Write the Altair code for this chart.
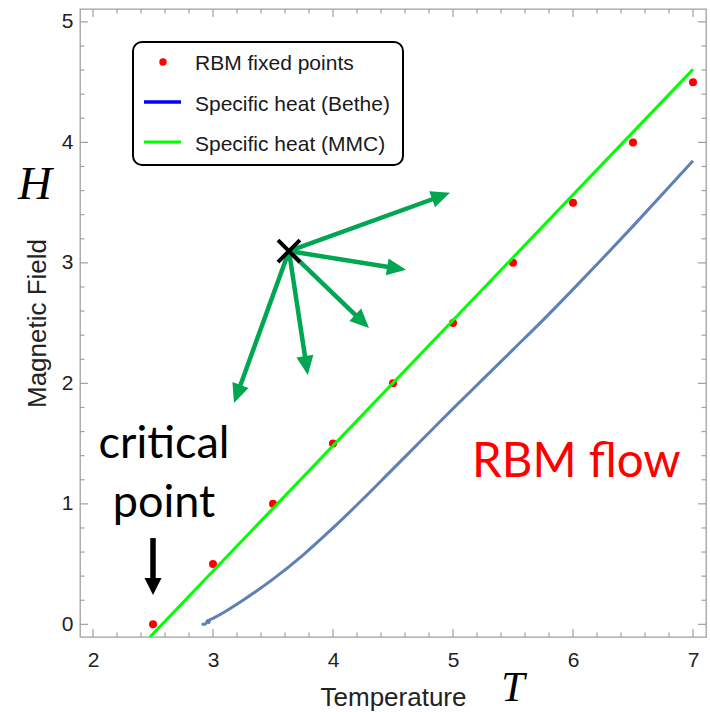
import math
import altair as alt
import numpy as np
import pandas as pd

# ---------------- data ----------------
rbm_T = [2.5, 3.0, 3.5, 4.0, 4.5, 5.0, 5.5, 6.0, 6.5, 7.0]
rbm_H = [0.0, 0.5, 1.0, 1.5, 2.0, 2.5, 3.0, 3.5, 4.0, 4.5]

mmc_T = [2.475, 7.0]
mmc_H = [-0.105, 4.606]

bethe_T = [2.906, 2.93, 2.945, 2.955, 2.965, 2.975, 2.99, 3.0, 3.1, 3.25, 3.5, 3.75,
           4.0, 4.25, 4.5, 4.75, 5.0, 5.25, 5.5, 5.75, 6.0, 6.25, 6.5, 6.75, 7.0]
bethe_H = [0.0, 0.0, 0.012, 0.032, 0.014, 0.04, 0.045, 0.05, 0.105, 0.2, 0.375, 0.575,
           0.8, 1.04, 1.29, 1.54, 1.79, 2.035, 2.28, 2.525, 2.78, 3.04, 3.305, 3.575, 3.848]

flow_origin_T = [3.633]
flow_origin_H = [3.098]
flow_tip_T = [4.975, 4.608, 4.30, 3.79, 3.175]
flow_tip_H = [3.581, 2.942, 2.46, 2.07, 1.838]

crit_T = [2.5]
crit_top_H = [0.716]
crit_tip_H = [0.243]

x_tick_labels = [2, 3, 4, 5, 6, 7]
y_tick_labels = [0, 1, 2, 3, 4, 5]

legend_labels = ["RBM fixed points", "Specific heat (Bethe)", "Specific heat (MMC)"]

# ---------------- layout ----------------
W, H = 626, 628
X0, X1 = 1.8917, 7.1083
Y0, Y1 = -0.105, 5.107
SX = W / (X1 - X0)
SY = H / (Y1 - Y0)

xs = alt.Scale(domain=[X0, X1], nice=False, zero=False)
ys = alt.Scale(domain=[Y0, Y1], nice=False, zero=False)

GREEN = "#00A651"
FRAME = "#a0a0a0"

xaxis = alt.Axis(values=x_tick_labels, ticks=False, domain=False, grid=False,
                 labelFontSize=21, labelFont="Liberation Sans", labelColor="#222222",
                 labelPadding=12, title="Temperature", titleFont="Liberation Sans",
                 titleFontSize=26, titleFontWeight="normal", titleColor="#222222",
                 titleY=68, titleBaseline="alphabetic")
yaxis = alt.Axis(values=y_tick_labels, ticks=False, domain=False, grid=False,
                 labelFontSize=21, labelFont="Liberation Sans", labelColor="#222222",
                 labelPadding=7, title="Magnetic Field", titleFont="Liberation Sans",
                 titleFontSize=26, titleFontWeight="normal", titleColor="#222222",
                 titleAngle=270, titleX=-35, titleY=314, titleBaseline="alphabetic",
                 titleAlign="center")


def X(f):
    return alt.X(f, scale=xs, axis=xaxis)


def Y(f):
    return alt.Y(f, scale=ys, axis=yaxis)


def arrow_table(oT, oH, tT, tH, head_px):
    rows = []
    for a, b, c, d in zip(oT, oH, tT, tH):
        dx = (c - a) * SX
        dy = (d - b) * SY
        L = math.hypot(dx, dy)
        ang = math.degrees(math.atan2(dx, dy)) % 360
        back = head_px * 0.6
        rows.append(dict(T0=a, H0=b, T1=c - dx / L * back / SX, H1=d - dy / L * back / SY,
                         TT=c, HT=d, ang=ang))
    return pd.DataFrame(rows)


flow = arrow_table(flow_origin_T * len(flow_tip_T), flow_origin_H * len(flow_tip_T),
                   flow_tip_T, flow_tip_H, 19)
crit = arrow_table(crit_T, crit_top_H, crit_T, crit_tip_H, 17)

# ---------------- tick marks (inward, on all four sides) ----------------
x_major = pd.DataFrame({"v": x_tick_labels})
x_minor = pd.DataFrame({"v": [v for v in np.round(np.arange(2.0, 7.01, 0.2), 1) if abs(v - round(v)) > 1e-6]})
y_major = pd.DataFrame({"v": y_tick_labels})
y_minor = pd.DataFrame({"v": [v for v in np.round(np.arange(0.0, 5.01, 0.2), 1) if abs(v - round(v)) > 1e-6]})

tick_layers = []
for df, ln in [(x_major, 8), (x_minor, 4.5)]:
    tick_layers.append(alt.Chart(df).mark_rule(color=FRAME, strokeWidth=1.2).encode(
        x=X("v:Q"), y=alt.value(H), y2=alt.value(H - ln)))
    tick_layers.append(alt.Chart(df).mark_rule(color=FRAME, strokeWidth=1.2).encode(
        x=X("v:Q"), y=alt.value(0), y2=alt.value(ln)))
for df, ln in [(y_major, 8), (y_minor, 4.5)]:
    tick_layers.append(alt.Chart(df).mark_rule(color=FRAME, strokeWidth=1.2).encode(
        y=Y("v:Q"), x=alt.value(0), x2=alt.value(ln)))
    tick_layers.append(alt.Chart(df).mark_rule(color=FRAME, strokeWidth=1.2).encode(
        y=Y("v:Q"), x=alt.value(W), x2=alt.value(W - ln)))

# ---------------- data layers ----------------
bethe = alt.Chart(pd.DataFrame({"T": bethe_T, "H": bethe_H})).mark_line(
    color="#5E81B5", strokeWidth=3, interpolate="monotone").encode(x=X("T:Q"), y=Y("H:Q"))

mmc = alt.Chart(pd.DataFrame({"T": mmc_T, "H": mmc_H})).mark_line(
    color="#00FF00", strokeWidth=3, clip=True).encode(x=X("T:Q"), y=Y("H:Q"))

rbm = alt.Chart(pd.DataFrame({"T": rbm_T, "H": rbm_H})).mark_point(
    filled=True, color="#FF0000", size=64, opacity=1).encode(x=X("T:Q"), y=Y("H:Q"))

flow_shafts = alt.Chart(flow).mark_rule(color=GREEN, strokeWidth=4.5).encode(
    x=X("T0:Q"), y=Y("H0:Q"), x2="T1:Q", y2="H1:Q")
flow_heads = alt.Chart(flow).mark_point(
    shape="M0,0L0.45,1L-0.45,1Z", filled=True, color=GREEN, size=1444, opacity=1,
    strokeWidth=0).encode(x=X("TT:Q"), y=Y("HT:Q"), angle=alt.Angle("ang:Q", scale=None))

xmark = alt.Chart(pd.DataFrame({"T": flow_origin_T, "H": flow_origin_H})).mark_point(
    shape="M-1,-1L1,1M1,-1L-1,1", filled=False, color="black", size=484,
    strokeWidth=4, opacity=1).encode(x=X("T:Q"), y=Y("H:Q"))

crit_shaft = alt.Chart(crit).mark_rule(color="black", strokeWidth=5.5).encode(
    x=X("T0:Q"), y=Y("H0:Q"), x2="T1:Q", y2="H1:Q")
crit_head = alt.Chart(crit).mark_point(
    shape="M0,0L0.5,1L-0.5,1Z", filled=True, color="black", size=1156, opacity=1,
    strokeWidth=0).encode(x=X("TT:Q"), y=Y("HT:Q"), angle=alt.Angle("ang:Q", scale=None))


def label(txt, x, y, **kw):
    return alt.Chart(pd.DataFrame({"s": [txt]})).mark_text(**kw).encode(
        x=alt.value(x), y=alt.value(y), text="s:N")


texts = [
    label("critical", 84, 449, font="Lato", fontSize=45, color="black", align="center",
          baseline="alphabetic"),
    label("point", 84, 508, font="Lato", fontSize=45, color="black", align="center",
          baseline="alphabetic"),
    label("RBM flow", 392, 468, font="Lato", fontSize=47.5, color="#FF0000", align="left",
          baseline="alphabetic"),
    label("H", -45, 190, font="Liberation Serif", fontStyle="italic", fontSize=47,
          color="black", align="center", baseline="alphabetic"),
    label("T", 433, 692, font="Liberation Serif", fontStyle="italic", fontSize=42,
          color="black", align="center", baseline="alphabetic"),
]

# ---------------- legend (drawn inside the frame) ----------------
leg_box = alt.Chart(pd.DataFrame({"a": [0]})).mark_rect(
    fill="white", stroke="black", strokeWidth=2, cornerRadius=9).encode(
    x=alt.value(53), x2=alt.value(323), y=alt.value(33), y2=alt.value(156))
leg_dot = alt.Chart(pd.DataFrame({"a": [0]})).mark_point(
    filled=True, color="#FF0000", size=55, opacity=1).encode(
    x=alt.value(83), y=alt.value(53))
leg_blue = alt.Chart(pd.DataFrame({"a": [0]})).mark_rule(color="#0000FF", strokeWidth=3.5).encode(
    x=alt.value(64), x2=alt.value(101), y=alt.value(93))
leg_green = alt.Chart(pd.DataFrame({"a": [0]})).mark_rule(color="#00FF00", strokeWidth=3).encode(
    x=alt.value(64), x2=alt.value(101), y=alt.value(133))
leg_texts = [label(t, 115, yy, font="Liberation Sans", fontSize=21, color="#1a1a1a",
                   align="left", baseline="alphabetic")
             for t, yy in zip(legend_labels, [61, 102, 142])]

chart = alt.layer(
    rbm, *tick_layers, bethe, mmc, flow_shafts, flow_heads, xmark, crit_shaft, crit_head,
    *texts, leg_box, leg_dot, leg_blue, leg_green, *leg_texts
).properties(
    width=W, height=H,
    autosize=alt.AutoSizeParams(type="none"),
    padding={"left": 80, "top": 9, "right": 4, "bottom": 75},
    background="white",
).configure_view(stroke=FRAME, strokeWidth=1.3)

chart.save("out.html", embed_options={"renderer": "svg", "actions": False})
